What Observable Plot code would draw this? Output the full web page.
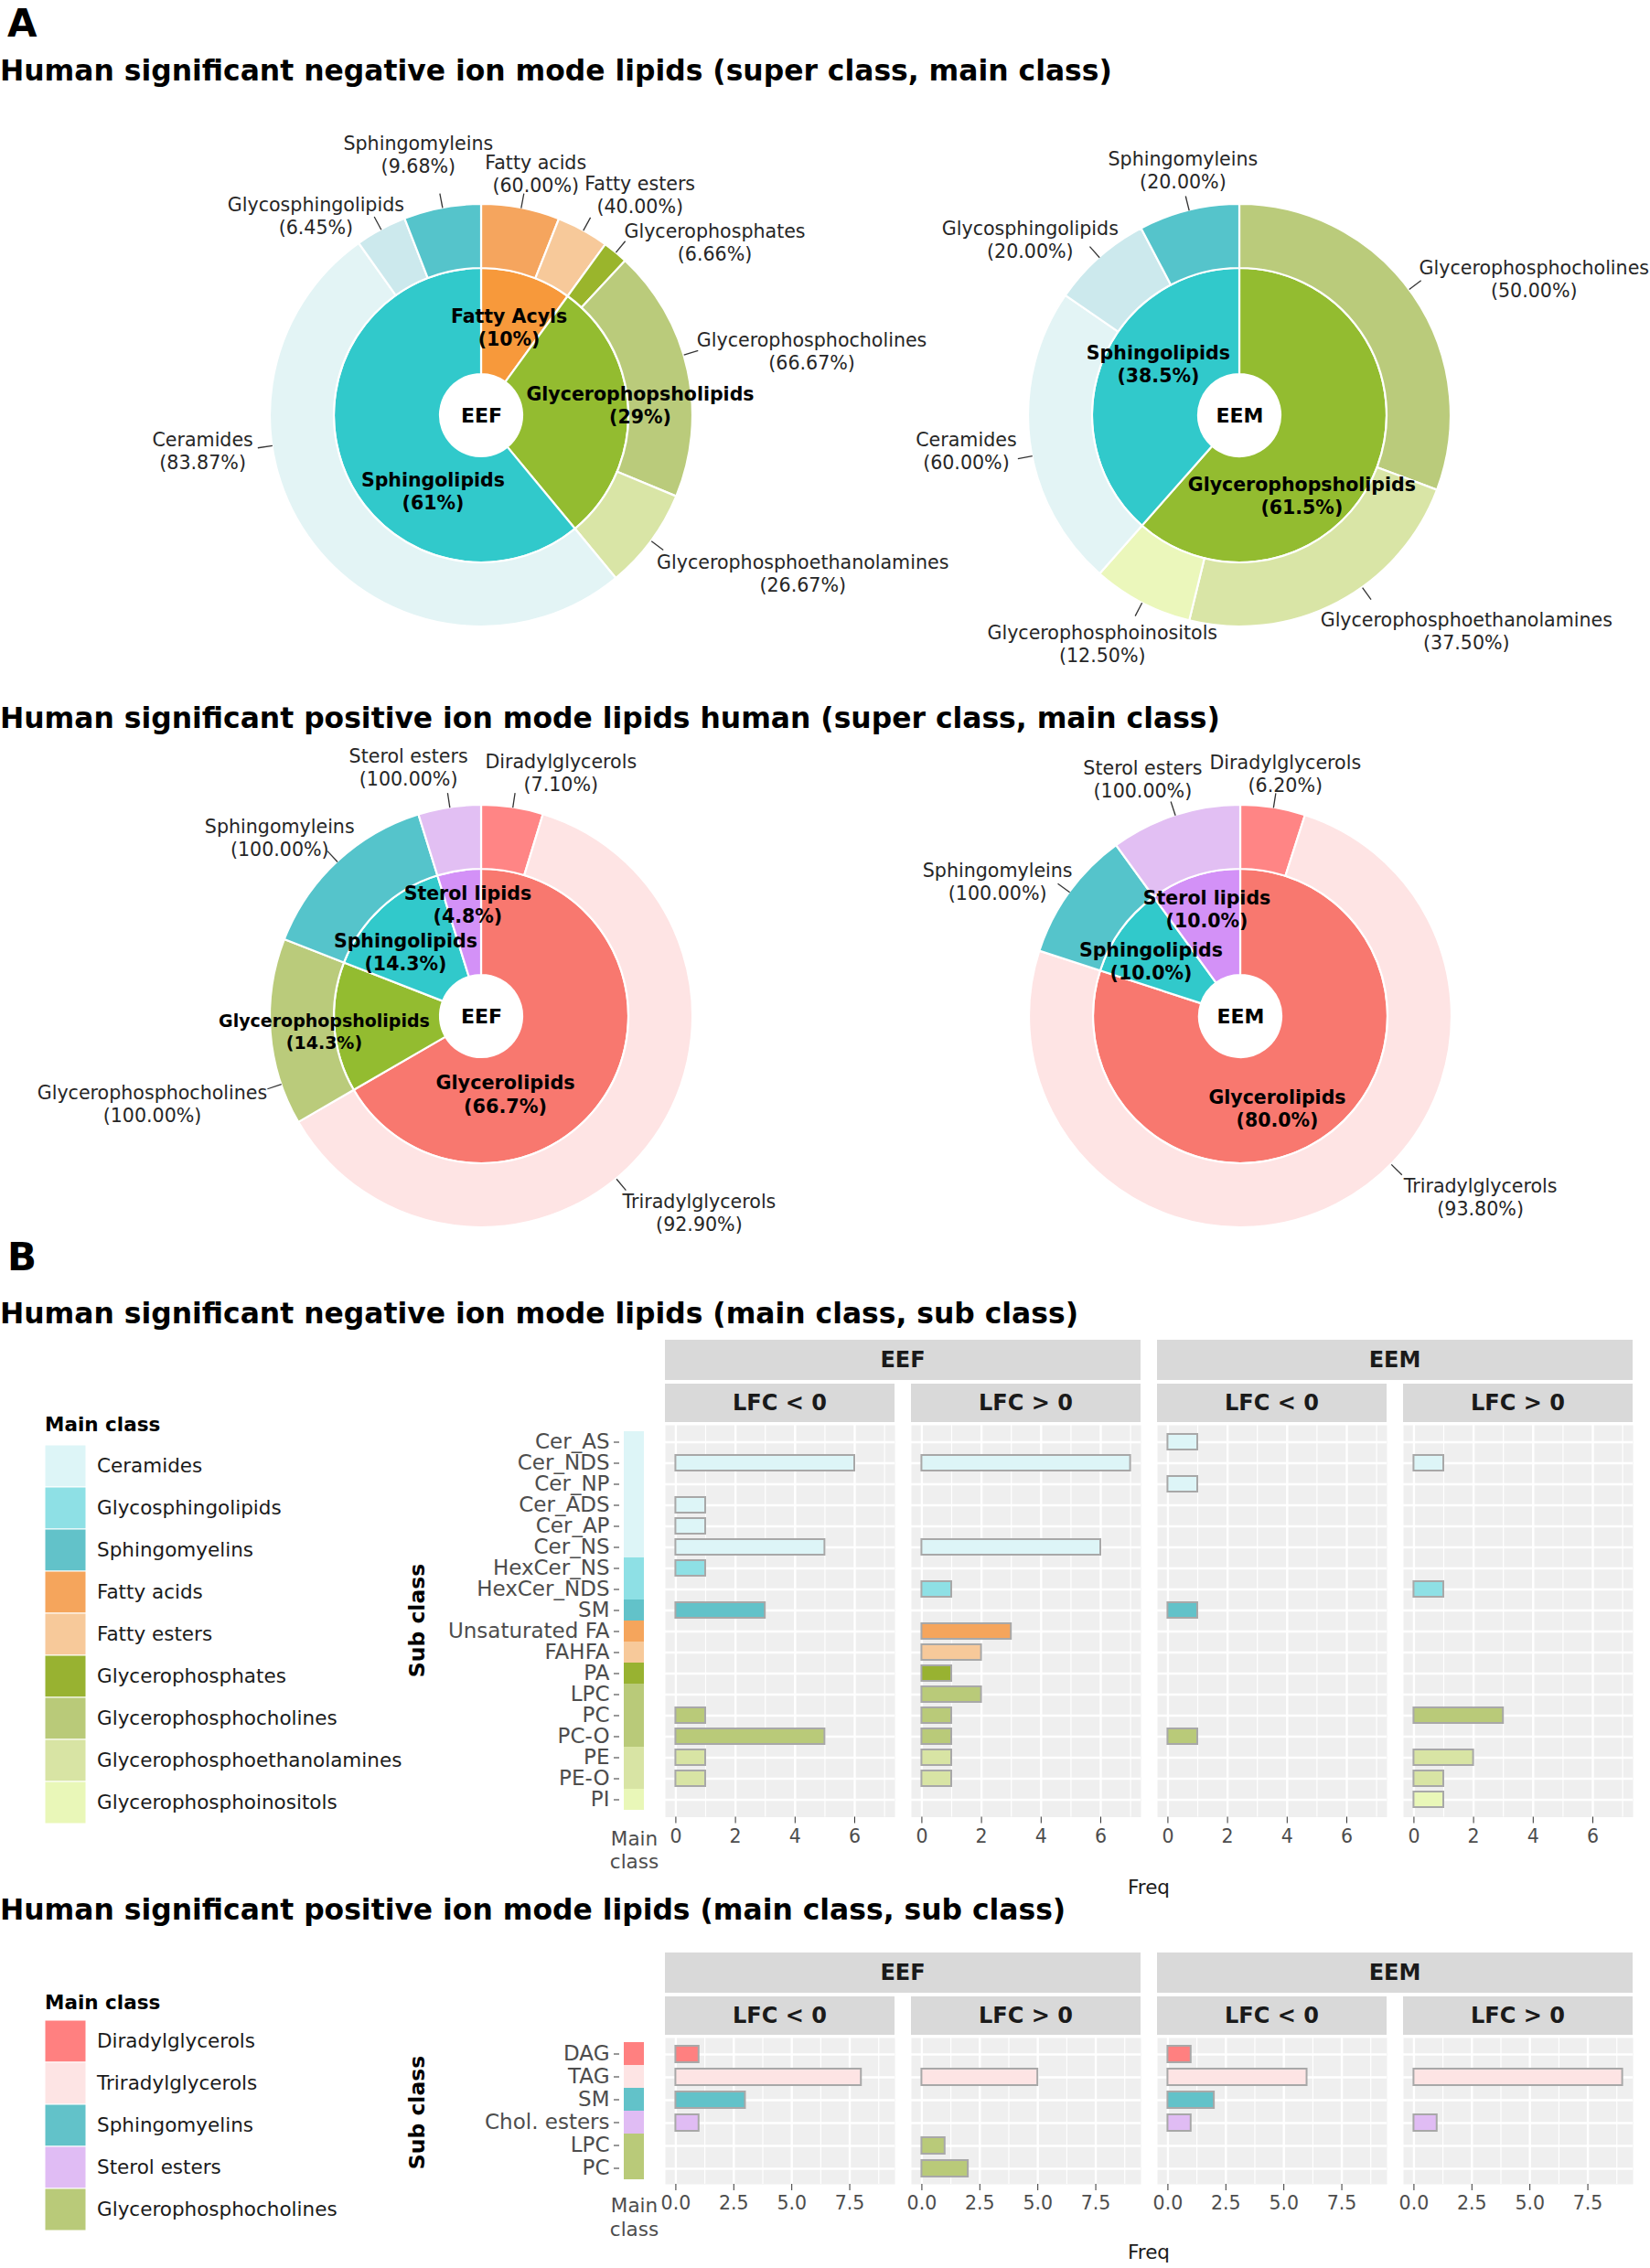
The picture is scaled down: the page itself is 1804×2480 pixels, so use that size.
<!DOCTYPE html>
<html><head><meta charset="utf-8">
<script src="https://cdn.jsdelivr.net/npm/d3@7"></script>
<script src="https://cdn.jsdelivr.net/npm/@observablehq/plot@0.6"></script>
<style>
html,body{margin:0;padding:0;background:#fff;overflow:hidden;}
#page{position:relative;width:1804px;height:2480px;overflow:hidden;background:#fff;font-family:"DejaVu Sans",sans-serif;}
#page svg{overflow:visible;}
</style></head>
<body><div id="page"></div>
<script>
// ---------------- DATA: pies (super class inner ring, main class outer ring) ----------------
const negEEF_super = ["Fatty Acyls", "Glycerophopsholipids", "Sphingolipids"];
const negEEF_superPct = [10, 29, 61];
const negEEF_main = ["Fatty acids", "Fatty esters", "Glycerophosphates", "Glycerophosphocholines", "Glycerophosphoethanolamines", "Ceramides", "Glycosphingolipids", "Sphingomyleins"];
const negEEF_mainParent = [0, 0, 1, 1, 1, 2, 2, 2];
const negEEF_mainPct = [60.00, 40.00, 6.66, 66.67, 26.67, 83.87, 6.45, 9.68];

const negEEM_super = ["Glycerophopsholipids", "Sphingolipids"];
const negEEM_superPct = [61.5, 38.5];
const negEEM_main = ["Glycerophosphocholines", "Glycerophosphoethanolamines", "Glycerophosphoinositols", "Ceramides", "Glycosphingolipids", "Sphingomyleins"];
const negEEM_mainParent = [0, 0, 0, 1, 1, 1];
const negEEM_mainPct = [50.00, 37.50, 12.50, 60.00, 20.00, 20.00];

const posEEF_super = ["Glycerolipids", "Glycerophopsholipids", "Sphingolipids", "Sterol lipids"];
const posEEF_superPct = [66.7, 14.3, 14.3, 4.8];
const posEEF_main = ["Diradylglycerols", "Triradylglycerols", "Glycerophosphocholines", "Sphingomyleins", "Sterol esters"];
const posEEF_mainParent = [0, 0, 1, 2, 3];
const posEEF_mainPct = [7.10, 92.90, 100.00, 100.00, 100.00];

const posEEM_super = ["Glycerolipids", "Sphingolipids", "Sterol lipids"];
const posEEM_superPct = [80.0, 10.0, 10.0];
const posEEM_main = ["Diradylglycerols", "Triradylglycerols", "Sphingomyleins", "Sterol esters"];
const posEEM_mainParent = [0, 0, 1, 2];
const posEEM_mainPct = [6.20, 93.80, 100.00, 100.00];

// ---------------- DATA: bar charts (counts per sub class) ----------------
const panelKeys = ["EEF|LFC < 0", "EEF|LFC > 0", "EEM|LFC < 0", "EEM|LFC > 0"];

const negSub = ["Cer_AS", "Cer_NDS", "Cer_NP", "Cer_ADS", "Cer_AP", "Cer_NS", "HexCer_NS", "HexCer_NDS", "SM", "Unsaturated FA", "FAHFA", "PA", "LPC", "PC", "PC-O", "PE", "PE-O", "PI"];
const negSubMain = ["Ceramides", "Ceramides", "Ceramides", "Ceramides", "Ceramides", "Ceramides", "Glycosphingolipids", "Glycosphingolipids", "Sphingomyelins", "Fatty acids", "Fatty esters", "Glycerophosphates", "Glycerophosphocholines", "Glycerophosphocholines", "Glycerophosphocholines", "Glycerophosphoethanolamines", "Glycerophosphoethanolamines", "Glycerophosphoinositols"];
const negEEF_down = [0, 6, 0, 1, 1, 5, 1, 0, 3, 0, 0, 0, 0, 1, 5, 1, 1, 0];
const negEEF_up   = [0, 7, 0, 0, 0, 6, 0, 1, 0, 3, 2, 1, 2, 1, 1, 1, 1, 0];
const negEEM_down = [1, 0, 1, 0, 0, 0, 0, 0, 1, 0, 0, 0, 0, 0, 1, 0, 0, 0];
const negEEM_up   = [0, 1, 0, 0, 0, 0, 0, 1, 0, 0, 0, 0, 0, 3, 0, 2, 1, 1];
const negMain = ["Ceramides", "Glycosphingolipids", "Sphingomyelins", "Fatty acids", "Fatty esters", "Glycerophosphates", "Glycerophosphocholines", "Glycerophosphoethanolamines", "Glycerophosphoinositols"];
const negMainColors = ["#ddf5f7", "#8ee0e5", "#62c2c9", "#f5a55c", "#f7c99a", "#98b231", "#b9ca79", "#d8e4a4", "#e9f7b8"];
const negTicks = [0, 2, 4, 6];
const negMinor = [1, 3, 5, 7];

const posSub = ["DAG", "TAG", "SM", "Chol. esters", "LPC", "PC"];
const posSubMain = ["Diradylglycerols", "Triradylglycerols", "Sphingomyelins", "Sterol esters", "Glycerophosphocholines", "Glycerophosphocholines"];
const posEEF_down = [1, 8, 3, 1, 0, 0];
const posEEF_up   = [0, 5, 0, 0, 1, 2];
const posEEM_down = [1, 6, 2, 1, 0, 0];
const posEEM_up   = [0, 9, 0, 1, 0, 0];
const posMain = ["Diradylglycerols", "Triradylglycerols", "Sphingomyelins", "Sterol esters", "Glycerophosphocholines"];
const posMainColors = ["#ff8080", "#fde4e4", "#62c2c9", "#e0bcf4", "#b9ca79"];
const posTicks = [0, 2.5, 5, 7.5];
const posMinor = [1.25, 3.75, 6.25, 8.75];

// ---------------- STYLE / LAYOUT ----------------
const pieColor = {
  "Fatty Acyls": "#f7993b", "Glycerophopsholipids": "#93bc30", "Sphingolipids": "#31c9cb",
  "Glycerolipids": "#f8786f", "Sterol lipids": "#d391f7",
  "Fatty acids": "#f5a55e", "Fatty esters": "#f7c99a", "Glycerophosphates": "#9ab52c",
  "Glycerophosphocholines": "#bacb7b", "Glycerophosphoethanolamines": "#d9e5a6", "Glycerophosphoinositols": "#ebf7bb",
  "Ceramides": "#e3f4f5", "Glycosphingolipids": "#cce9ed", "Sphingomyleins": "#55c4cb",
  "Diradylglycerols": "#ff8585", "Triradylglycerols": "#fee4e4", "Sterol esters": "#e2bff3"
};
// label layout: outer [leader angle (null = slice middle), text angle, text radius]; inner [angle, radius, fontSize]
const negEEF_outerLbl = [[null, 12.6, 1.175], [null, 35.6, 1.288], [null, 53.3, 1.377], [73.3, 78.9, 1.593], [null, 116.1, 1.693], [261.8, 262.9, 1.33], [null, 320.4, 1.23], [null, 346.4, 1.273]];
const negEEF_innerLbl = [[17.2, 0.44, 20.5], [86, 0.753, 20.5], [212.9, 0.423, 20.5]];
const negEEM_outerLbl = [[53.3, 65.0, 1.537], [144.5, 133.5, 1.479], [null, 211.1, 1.259], [259, 262.8, 1.305], [null, 310.1, 1.297], [null, 347, 1.195]];
const negEEM_innerLbl = [[142, 0.477, 20.5], [302.6, 0.458, 20.5]];
const posEEF_outerLbl = [[null, 18.0, 1.216], [140.3, 131.96, 1.385], [251.3, 255.2, 1.612], [null, 311.6, 1.278], [null, 343.7, 1.232]];
const posEEF_innerLbl = [[162.8, 0.381, 20.8], [264.7, 0.748, 19], [310.5, 0.473, 20.5], [353, 0.537, 20.5]];
const posEEM_outerLbl = [[null, 10.4, 1.171], [134.5, 126.9, 1.419], [null, 299.1, 1.317], [null, 337.6, 1.217]];
const posEEM_innerLbl = [[158.2, 0.466, 20.5], [301.9, 0.5, 20.5], [342.6, 0.535, 20.5]];

const page = document.getElementById("page");
const FONT = "DejaVu Sans";
const baseStyle = {background: "transparent", overflow: "visible", fontFamily: FONT};

function place(node, left, top) {
  node.style.position = "absolute";
  node.style.left = left + "px";
  node.style.top = top + "px";
  page.appendChild(node);
  return node;
}
function label(text, {x, baseline, size, bold = false, color = "#000", align = "left"}) {
  const d = document.createElement("div");
  d.textContent = text;
  Object.assign(d.style, {position: "absolute", whiteSpace: "nowrap", fontSize: size + "px", lineHeight: "1",
    fontWeight: bold ? "bold" : "normal", color, fontFamily: FONT});
  d.style.top = (baseline - 0.846 * size) + "px";
  d.style.left = x + "px";
  if (align === "center") d.style.transform = "translateX(-50%)";
  page.appendChild(d);
  return d;
}
function vlabel(text, cx, cy, size) {
  const d = document.createElement("div");
  d.textContent = text;
  Object.assign(d.style, {position: "absolute", whiteSpace: "nowrap", fontSize: size + "px", lineHeight: "1",
    fontWeight: "bold", color: "#000", fontFamily: FONT, left: cx + "px", top: cy + "px",
    transform: "translate(-50%,-50%) rotate(-90deg)"});
  page.appendChild(d);
}
function strip(text, x0, x1, y0, y1) {
  const d = document.createElement("div");
  d.textContent = text;
  Object.assign(d.style, {position: "absolute", left: x0 + "px", top: y0 + "px", width: (x1 - x0) + "px", height: (y1 - y0) + "px",
    background: "#d9d9d9", display: "flex", alignItems: "center", justifyContent: "center",
    fontSize: "24px", fontWeight: "bold", color: "#1a1a1a", fontFamily: FONT});
  page.appendChild(d);
}

// ---------------- PIES ----------------
const PW = 900, PH = 640, PR = 231;
function pieSlices(superPct, mainParent, mainPct) {
  const sTot = d3.sum(superPct);
  const inner = []; let a = 0;
  superPct.forEach((p, i) => { const da = p / sTot * 2 * Math.PI; inner.push({i, a0: a, a1: a + da}); a += da; });
  const outer = [];
  inner.forEach((s, si) => {
    const kids = mainParent.map((p, j) => p === si ? j : -1).filter(j => j >= 0);
    const tot = d3.sum(kids, j => mainPct[j]);
    let b = s.a0;
    kids.forEach(j => { const db = mainPct[j] / tot * (s.a1 - s.a0); outer.push({j, a0: b, a1: b + db}); b += db; });
  });
  return {inner, outer};
}
const pol = (thDeg, r) => ({x: r * Math.sin(thDeg * Math.PI / 180), y: r * Math.cos(thDeg * Math.PI / 180)});

function piePlot(cfg) {
  const {superNames, superPct, superFmt, mainNames, mainParent, mainPct, outerLbl, innerLbl, center} = cfg;
  const {inner, outer} = pieSlices(superPct, mainParent, mainPct);
  const rMid = 161 / PR, rHole = 45 / PR;
  const slices = [
    ...inner.map(s => ({r0: rHole, r1: rMid, a0: s.a0, a1: s.a1, fill: pieColor[superNames[s.i]]})),
    ...outer.map(s => ({r0: rMid, r1: 1, a0: s.a0, a1: s.a1, fill: pieColor[mainNames[s.j]]}))
  ];
  const outerLabels = outer.map((s, k) => {
    const [lead, th, rr] = outerLbl[k];
    const la = lead ?? ((s.a0 + s.a1) / 2 * 180 / Math.PI);
    const p0 = pol(la, 1.0), p1 = pol(la, 1.07), t = pol(th, rr);
    return {x1: p0.x, y1: p0.y, x2: p1.x, y2: p1.y, x: t.x, y: t.y,
      text: `${mainNames[s.j]}\n(${mainPct[s.j].toFixed(2)}%)`};
  });
  const innerLabels = inner.map((s, k) => {
    const [th, rr, fs] = innerLbl[k];
    const t = pol(th, rr);
    return {x: t.x, y: t.y, fs, text: `${superNames[s.i]}\n(${superFmt(superPct[s.i])}%)`};
  });
  const arcs = (index, scales) => {
    const {x, y} = scales;
    const cx = x(0), cy = y(0), k = x(1) - x(0);
    const g = d3.create("svg:g");
    const arc = d3.arc();
    g.selectAll("path").data(slices).join("path")
      .attr("transform", `translate(${cx},${cy})`)
      .attr("d", d => arc({innerRadius: d.r0 * k, outerRadius: d.r1 * k, startAngle: d.a0, endAngle: d.a1}))
      .attr("fill", d => d.fill).attr("stroke", "white").attr("stroke-width", 2.2).attr("stroke-linejoin", "round");
    return g.node();
  };
  return Plot.plot({
    width: PW, height: PH, margin: 0,
    style: baseStyle,
    x: {domain: [-PW / 2 / PR, PW / 2 / PR], axis: null},
    y: {domain: [-PH / 2 / PR, PH / 2 / PR], axis: null},
    marks: [
      arcs,
      Plot.link(outerLabels, {x1: "x1", y1: "y1", x2: "x2", y2: "y2", stroke: "#333", strokeWidth: 1.3}),
      Plot.text(outerLabels, {x: "x", y: "y", text: "text", fontSize: 20.6, lineHeight: 1.23, fill: "#262626"}),
      Plot.text(innerLabels, {x: "x", y: "y", text: "text", fontSize: d => d.fs, lineHeight: 1.24, fontWeight: "bold", fill: "#000"}),
      Plot.text([center], {x: () => 0, y: () => 0, text: d => d, fontSize: 22, fontWeight: "bold", fill: "#000"})
    ]
  });
}
const f0 = d3.format(".0f"), f1 = d3.format(".1f");
const pies = [
  {cx: 526, cy: 454, cfg: {superNames: negEEF_super, superPct: negEEF_superPct, superFmt: f0, mainNames: negEEF_main, mainParent: negEEF_mainParent, mainPct: negEEF_mainPct, outerLbl: negEEF_outerLbl, innerLbl: negEEF_innerLbl, center: "EEF"}},
  {cx: 1355, cy: 454, cfg: {superNames: negEEM_super, superPct: negEEM_superPct, superFmt: f1, mainNames: negEEM_main, mainParent: negEEM_mainParent, mainPct: negEEM_mainPct, outerLbl: negEEM_outerLbl, innerLbl: negEEM_innerLbl, center: "EEM"}},
  {cx: 526, cy: 1111, cfg: {superNames: posEEF_super, superPct: posEEF_superPct, superFmt: f1, mainNames: posEEF_main, mainParent: posEEF_mainParent, mainPct: posEEF_mainPct, outerLbl: posEEF_outerLbl, innerLbl: posEEF_innerLbl, center: "EEF"}},
  {cx: 1356, cy: 1111, cfg: {superNames: posEEM_super, superPct: posEEM_superPct, superFmt: f1, mainNames: posEEM_main, mainParent: posEEM_mainParent, mainPct: posEEM_mainPct, outerLbl: posEEM_outerLbl, innerLbl: posEEM_innerLbl, center: "EEM"}}
];
pies.forEach(p => place(piePlot(p.cfg), p.cx - PW / 2, p.cy - PH / 2));

// ---------------- BAR PANELS ----------------
const PANEL_LEFT = 727, PANEL_W = 1058;
function barSection({subs, subMain, mains, colors, series, xmax, ticks, minor, fmt, top, panelH, mb,
                     legendTop, legendTitleBase, subLabelY, freqY}) {
  const rows = [];
  panelKeys.forEach((p, j) => series[j].forEach((v, i) => { if (v > 0) rows.push({panel: p, sub: subs[i], main: subMain[i], value: v}); }));
  const pad = xmax * 0.05;
  const color = {domain: mains, range: colors};
  const panels = Plot.plot({
    width: PANEL_W, height: panelH + mb, marginTop: 0, marginBottom: mb, marginLeft: 0, marginRight: 0,
    style: baseStyle,
    fx: {domain: panelKeys, paddingInner: 18 / 269, paddingOuter: 0, axis: null, label: null},
    x: {domain: [-pad, xmax + pad], label: null},
    y: {domain: subs, paddingInner: 0.28, paddingOuter: 0.24, axis: null, label: null},
    color,
    marks: [
      Plot.frame({fill: "#efefef", stroke: "none"}),
      Plot.gridX({ticks: minor, stroke: "white", strokeOpacity: 1, strokeWidth: 1.2}),
      Plot.gridX({ticks, stroke: "white", strokeOpacity: 1, strokeWidth: 2.4}),
      Plot.gridY({stroke: "white", strokeOpacity: 1, strokeWidth: 2.4}),
      Plot.barX(rows, {fx: "panel", y: "sub", x1: 0, x2: "value", fill: "main", stroke: "#a8a8a8", strokeWidth: 2}),
      Plot.axisX({ticks, tickFormat: fmt, tickSize: 7, tickPadding: 6, fontSize: 20.5, color: "#4d4d4d", stroke: "#333", label: null})
    ]
  });
  place(panels, PANEL_LEFT, top);
  // strips from the facet scale
  const fx = panels.scale("fx");
  const bw = fx.bandwidth;
  const px = k => PANEL_LEFT + fx.apply(k);
  strip("EEF", px(panelKeys[0]), px(panelKeys[1]) + bw, top - 93, top - 49);
  strip("EEM", px(panelKeys[2]), px(panelKeys[3]) + bw, top - 93, top - 49);
  panelKeys.forEach(k => strip(k.split("|")[1], px(k), px(k) + bw, top - 45, top - 3));

  // left axis with main-class colour strip
  const axisPlot = Plot.plot({
    width: 704, height: panelH + mb, marginTop: 0, marginBottom: mb, marginLeft: 677, marginRight: 0,
    style: baseStyle,
    x: {type: "band", domain: ["Main\nclass"], range: [682, 704], padding: 0, label: null},
    y: {domain: subs, paddingInner: 0, paddingOuter: 0.1, label: null},
    color,
    marks: [
      Plot.cell(subs, {x: () => "Main\nclass", y: d => d, fill: (d, i) => subMain[i]}),
      Plot.axisY({tickSize: 6, tickPadding: 5, fontSize: 23, color: "#4d4d4d", stroke: "#333", label: null}),
      Plot.axisX({tickSize: 0, tickPadding: 13, fontSize: 21.5, lineHeight: 1.17, color: "#4d4d4d", label: null})
    ]
  });
  place(axisPlot, 0, top);

  // legend
  const legend = Plot.plot({
    width: 420, height: mains.length * 46, margin: 0,
    style: baseStyle,
    x: {type: "band", domain: ["key"], range: [49, 94], padding: 0, axis: null},
    y: {domain: mains, padding: 0, axis: null},
    color,
    marks: [
      Plot.cell(mains, {x: () => "key", y: d => d, fill: d => d, stroke: "white", strokeWidth: 1}),
      Plot.text(mains, {x: () => "key", y: d => d, text: d => d, dx: 34, textAnchor: "start", fontSize: 21.5, fill: "#1a1a1a"})
    ]
  });
  place(legend, 0, legendTop);
  label("Main class", {x: 49, baseline: legendTitleBase, size: 21.5, bold: true});
  vlabel("Sub class", 457, subLabelY, 23.5);
  label("Freq", {x: PANEL_LEFT + PANEL_W / 2, baseline: freqY, size: 21.5, color: "#1a1a1a", align: "center"});
}

// ---------------- TEXT ----------------
label("A", {x: 8, baseline: 41, size: 42, bold: true});
label("Human significant negative ion mode lipids (super class, main class)", {x: 0, baseline: 89, size: 31.4, bold: true});
label("Human significant positive ion mode lipids human (super class, main class)", {x: 0, baseline: 797, size: 31.4, bold: true});
label("B", {x: 8, baseline: 1390, size: 42, bold: true});
label("Human significant negative ion mode lipids (main class, sub class)", {x: 0, baseline: 1448, size: 31.4, bold: true});
label("Human significant positive ion mode lipids (main class, sub class)", {x: 0, baseline: 2100, size: 31.4, bold: true});

barSection({subs: negSub, subMain: negSubMain, mains: negMain, colors: negMainColors,
  series: [negEEF_down, negEEF_up, negEEM_down, negEEM_up], xmax: 7, ticks: negTicks, minor: negMinor,
  fmt: d3.format("d"), top: 1558, panelH: 428.5, mb: 70,
  legendTop: 1580, legendTitleBase: 1565, subLabelY: 1772, freqY: 2071});

barSection({subs: posSub, subMain: posSubMain, mains: posMain, colors: posMainColors,
  series: [posEEF_down, posEEF_up, posEEM_down, posEEM_up], xmax: 9, ticks: posTicks, minor: posMinor,
  fmt: d3.format(".1f"), top: 2228, panelH: 160, mb: 70,
  legendTop: 2209, legendTitleBase: 2197, subLabelY: 2310, freqY: 2470});
</script>
</body></html>
